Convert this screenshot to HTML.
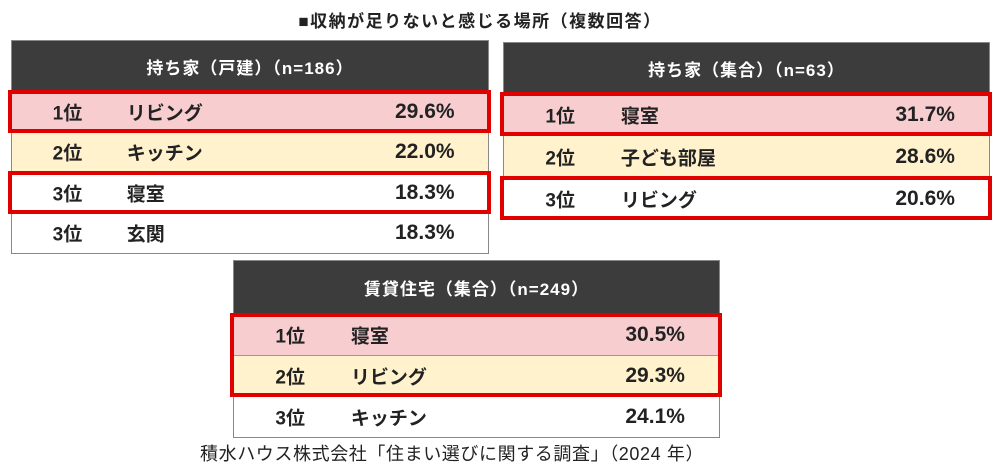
<!DOCTYPE html>
<html><head><meta charset="utf-8"><style>
body{margin:0;width:1000px;height:475px;background:#fff;position:relative;overflow:hidden;font-family:"Liberation Sans","Noto Sans CJK JP",sans-serif;}
.t{position:absolute;border:1px solid #888;box-sizing:content-box;background:#fff}
.h{position:absolute;left:0;right:0;top:0;background:#3c3c3c;color:#fff;font-weight:bold;font-size:17px;letter-spacing:1px;display:flex;align-items:center;justify-content:center}
.r{position:absolute;left:0;right:0;font-weight:bold;font-size:19px;color:#222;border-top:1px solid #999;box-sizing:border-box}
.r span{position:absolute;top:50%;transform:translateY(-50%)}
.r span.v{font-size:21px}
.box{position:absolute;border:4px solid #e00000;box-sizing:border-box}
</style></head><body>
<div style="position:absolute;left:0;width:960px;top:7px;text-align:center;font-weight:bold;font-size:17px;letter-spacing:1.5px;color:#222">■収納が足りないと感じる場所（複数回答）</div>
<div style="position:absolute;left:200px;top:440px;font-size:18px;letter-spacing:0.6px;color:#222">積水ハウス株式会社「住まい選びに関する調査」（2024 年）</div>
<script>
const tableTitles=["持ち家（戸建）（n=186）","持ち家（集合）（n=63）","賃貸住宅（集合）（n=249）"];
const ranks=[["1位","2位","3位","3位"],["1位","2位","3位"],["1位","2位","3位"]];
const places=[["リビング","キッチン","寝室","玄関"],["寝室","子ども部屋","リビング"],["寝室","リビング","キッチン"]];
const values=[[29.6,22.0,18.3,18.3],[31.7,28.6,20.6],[30.5,29.3,24.1]];
const highlights=[[[0,0],[2,2]],[[0,0],[2,2]],[[0,1]]];
const geo=[{x:11,y:40,w:478,hh:50,rh:40.5},{x:503,y:42,w:487,hh:50,rh:42},{x:233,y:260,w:487,hh:53,rh:41}];
const bg=["#f8cdd0","#fff2cc","#fff","#fff"];
geo.forEach((g,ti)=>{
  const n=values[ti].length;
  const t=document.createElement('div');t.className='t';
  
  
  t.style.cssText=`left:${g.x}px;top:${g.y}px;width:${g.w-2}px;height:${g.hh+n*g.rh}px`;
  const h=document.createElement('div');h.className='h';h.style.height=g.hh+'px';h.textContent=tableTitles[ti];
  
  
  t.appendChild(h);
  for(let i=0;i<n;i++){
    const r=document.createElement('div');r.className='r';
    
    
    r.style.cssText=`top:${g.hh+i*g.rh}px;height:${g.rh}px;background:${bg[i]}`;
    r.innerHTML=`<span style="left:${g.w*0.085}px">${ranks[ti][i]}</span><span style="left:${g.w*0.24}px">${places[ti][i]}</span><span class="v" style="right:${g.w*0.07}px">${values[ti][i].toFixed(1)}%</span>`;
    t.appendChild(r);
  }
  document.body.appendChild(t);
  highlights[ti].forEach(([a,b])=>{
    const bx=document.createElement('div');bx.className='box';
    
    
    bx.style.cssText=`left:${g.x-3}px;width:${g.w+5}px;top:${g.y+g.hh+a*g.rh}px;height:${(b-a+1)*g.rh+2}px`;
    document.body.appendChild(bx);
  });
});
</script>
</body></html>
